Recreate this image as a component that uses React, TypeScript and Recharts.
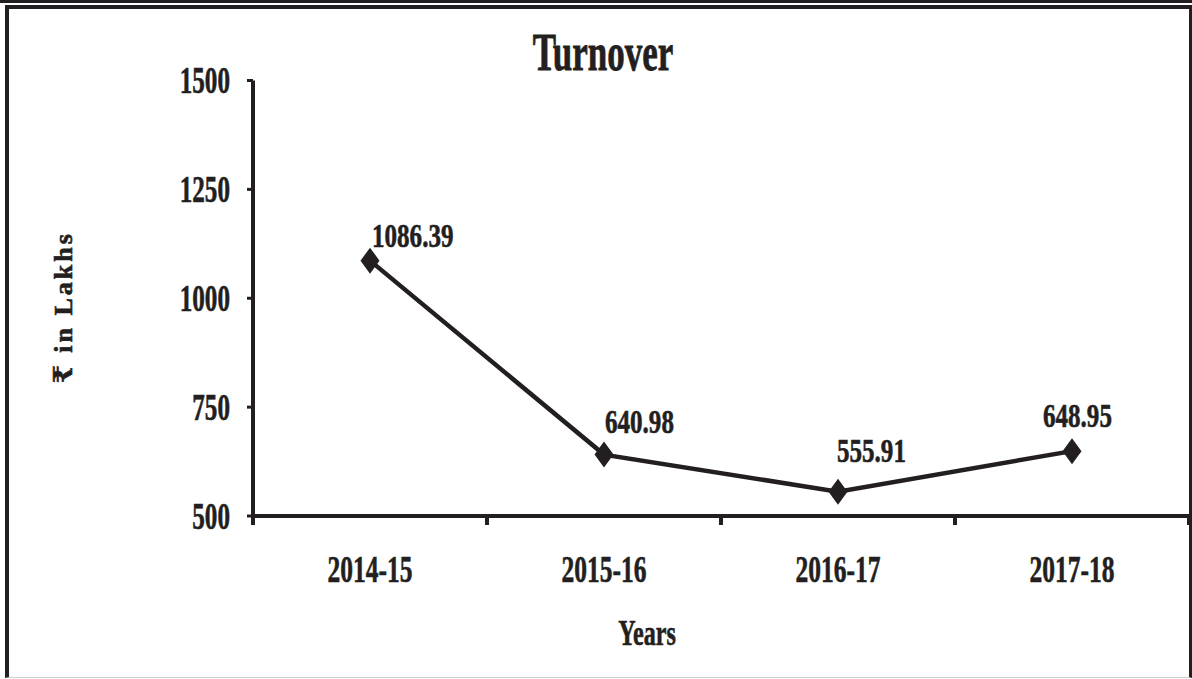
import React from 'react';
import { LineChart, Line, XAxis, YAxis, LabelList } from 'recharts';

const categories = ['2014-15', '2015-16', '2016-17', '2017-18'];
const turnover = [1086.39, 640.98, 555.91, 648.95];
const yTicks = [500, 750, 1000, 1250, 1500];
const titleText = 'Turnover';
const xTitle = 'Years';
const yTitle = '₹ in Lakhs';

const INK = '#231f20';
const FONT = "'Liberation Serif', 'Times New Roman', 'DejaVu Serif', serif";
const HEAVY = { stroke: INK, strokeWidth: 0.6 };

// label placement (style only): [dx, dy] relative to each point
const labelPlacement: [number, number][] = [
  [2, -14],
  [1, -22],
  [-1, -30],
  [-29, -24],
];

const data = categories.map((c, i) => ({ pos: i + 0.5, name: c, value: turnover[i] }));
const xTicks: number[] = [];
for (let i = 0; i <= categories.length; i++) {
  xTicks.push(i);
  if (i < categories.length) xTicks.push(i + 0.5);
}

const XTick = (props: any) => {
  const { x, y, payload } = props;
  const v = payload.value as number;
  if (Number.isInteger(v)) {
    return <line x1={x} x2={x} y1={y - 2} y2={y + 9} stroke={INK} strokeWidth={4} />;
  }
  const label = categories[Math.floor(v)];
  return (
    <g transform={`translate(${x},${y + 66})`}>
      <text transform="scale(0.69,1)" textAnchor="middle" fontFamily={FONT} fontWeight="bold" fontSize={37} fill={INK} {...HEAVY}>
        {label}
      </text>
    </g>
  );
};

const YTick = (props: any) => {
  const { x, y, payload } = props;
  return (
    <g transform={`translate(${x},${y + 12.5})`}>
      <text transform="scale(0.68,1)" textAnchor="end" fontFamily={FONT} fontWeight="bold" fontSize={37} fill={INK} {...HEAVY}>
        {payload.value}
      </text>
    </g>
  );
};

const Diamond = (props: any) => {
  const { cx, cy } = props;
  if (cx == null || cy == null) return null;
  const w = 9.5;
  const h = 13;
  return (
    <polygon
      points={`${cx},${cy - h} ${cx + w},${cy} ${cx},${cy + h} ${cx - w},${cy}`}
      fill={INK}
      stroke="none"
    />
  );
};

const ValueLabel = (props: any) => {
  const { x, y, value, index } = props;
  const [dx, dy] = labelPlacement[index] || [0, -20];
  return (
    <g transform={`translate(${x + dx},${y + dy})`}>
      <text transform="scale(0.76,1)" textAnchor="start" fontFamily={FONT} fontWeight="bold" fontSize={33} fill={INK} {...HEAVY}>
        {Number(value).toFixed(2)}
      </text>
    </g>
  );
};

const XAxisTitle = (props: any) => {
  const { viewBox } = props;
  const cx = viewBox.x + viewBox.width / 2 - 74;
  const by = viewBox.y + 129;
  return (
    <g transform={`translate(${cx},${by})`}>
      <text transform="scale(0.69,1)" textAnchor="middle" fontFamily={FONT} fontWeight="bold" fontSize={35} fill={INK} {...HEAVY}>
        {xTitle}
      </text>
    </g>
  );
};

const YAxisTitle = (props: any) => {
  const { viewBox } = props;
  const bx = viewBox.x - 121;
  const cy = viewBox.y + viewBox.height / 2 + 9;
  return (
    <text
      x={bx}
      y={cy}
      transform={`rotate(-90, ${bx}, ${cy})`}
      textAnchor="middle"
      fontFamily={FONT}
      fontWeight="bold"
      fontSize={26}
      letterSpacing={3}
      fill={INK}
      {...HEAVY}
    >
      {yTitle}
    </text>
  );
};

export default function App() {
  return (
    <div style={{ position: 'absolute', left: 0, top: 0, width: 1192, height: 679, background: '#fff', overflow: 'hidden' }}>
      <div style={{ position: 'absolute', left: 0, top: 0, width: 1192, height: 3, background: INK }} />
      <div
        style={{
          position: 'absolute',
          left: 5,
          top: 5,
          width: 1187,
          height: 673,
          boxSizing: 'border-box',
          borderTop: `4px solid ${INK}`,
          borderLeft: `4px solid ${INK}`,
          borderRight: `3px solid ${INK}`,
          borderBottom: '1px solid #cfcfcf',
        }}
      />
      <svg width={1192} height={679} style={{ position: 'absolute', left: 0, top: 0 }}>
        <g transform="translate(603,70)">
          <text transform="scale(0.66,1)" textAnchor="middle" fontFamily={FONT} fontWeight="bold" fontSize={53} fill={INK} stroke={INK} strokeWidth={0.8}>
            {titleText}
          </text>
        </g>
      </svg>
      <div style={{ position: 'absolute', left: 0, top: 0 }}>
        <LineChart width={1192} height={679} data={data} margin={{ top: 80.5, right: 3, bottom: 63, left: 193 }}>
          <XAxis
            dataKey="pos"
            type="number"
            domain={[0, categories.length]}
            ticks={xTicks}
            interval={0}
            height={100}
            tickSize={0}
            tickMargin={0}
            tickLine={false}
            axisLine={{ stroke: INK, strokeWidth: 4 }}
            tick={<XTick />}
            label={<XAxisTitle />}
          />
          <YAxis
            type="number"
            domain={[500, 1500]}
            ticks={yTicks}
            interval={0}
            width={60}
            tickSize={6}
            tickMargin={17}
            tickLine={{ stroke: INK, strokeWidth: 3 }}
            axisLine={{ stroke: INK, strokeWidth: 4 }}
            tick={<YTick />}
            label={<YAxisTitle />}
          />
          <Line
            dataKey="value"
            stroke={INK}
            strokeWidth={4.5}
            dot={<Diamond />}
            activeDot={false}
            isAnimationActive={false}
          >
            <LabelList dataKey="value" content={<ValueLabel />} />
          </Line>
        </LineChart>
      </div>
    </div>
  );
}
